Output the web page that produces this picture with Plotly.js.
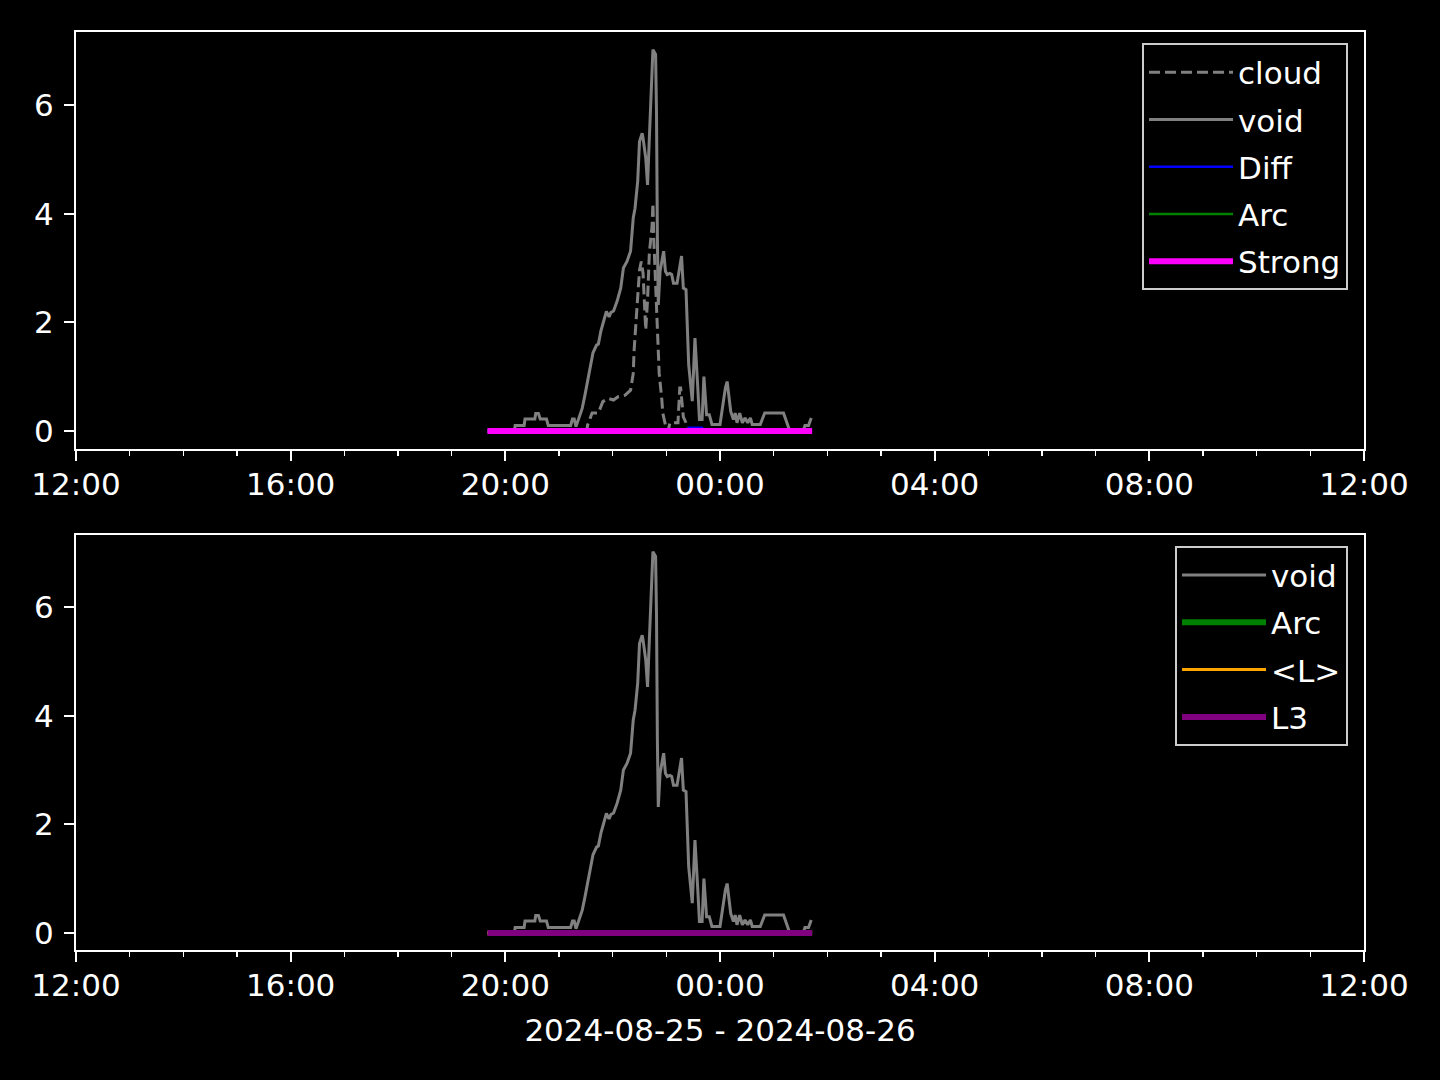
<!DOCTYPE html>
<html>
<head>
<meta charset="utf-8">
<script src="https://cdn.plot.ly/plotly-3.0.1.min.js"></script>
<style>
  html, body { margin: 0; padding: 0; background: #000; }
  #chart { width: 1440px; height: 1080px; }
</style>
</head>
<body>
<div id="chart"></div>
<script>
// ---------- data ----------
const dayA = '2024-08-25 ';
const dayB = '2024-08-26 ';

const voidTimes = [
  dayA+'19:40', dayA+'20:10', dayA+'20:11', dayA+'20:21', dayA+'20:22', dayA+'20:33', dayA+'20:34', dayA+'20:37',
  dayA+'20:39', dayA+'20:46', dayA+'20:48', dayA+'21:13', dayA+'21:15', dayA+'21:17', dayA+'21:19', dayA+'21:22',
  dayA+'21:26', dayA+'21:29', dayA+'21:32', dayA+'21:35', dayA+'21:38', dayA+'21:42', dayA+'21:44', dayA+'21:47',
  dayA+'21:50', dayA+'21:53', dayA+'21:56', dayA+'21:58', dayA+'22:01', dayA+'22:05', dayA+'22:09', dayA+'22:12',
  dayA+'22:16', dayA+'22:20', dayA+'22:23', dayA+'22:25', dayA+'22:28', dayA+'22:30', dayA+'22:33', dayA+'22:34',
  dayA+'22:37', dayA+'22:39', dayA+'22:41', dayA+'22:44', dayA+'22:45', dayA+'22:48', dayA+'22:49', dayA+'22:50',
  dayA+'22:51', dayA+'22:53', dayA+'22:57', dayA+'22:59', dayA+'23:01', dayA+'23:04', dayA+'23:06', dayA+'23:08',
  dayA+'23:12', dayA+'23:17', dayA+'23:19', dayA+'23:22', dayA+'23:25', dayA+'23:29', dayA+'23:32', dayA+'23:35',
  dayA+'23:37', dayA+'23:40', dayA+'23:42', dayA+'23:45', dayA+'23:48', dayA+'23:51',
  dayB+'00:00', dayB+'00:06', dayB+'00:08', dayB+'00:12', dayB+'00:15', dayB+'00:17', dayB+'00:19', dayB+'00:22',
  dayB+'00:25', dayB+'00:28', dayB+'00:31', dayB+'00:34', dayB+'00:36', dayB+'00:45', dayB+'00:50', dayB+'01:11',
  dayB+'01:16', dayB+'01:18', dayB+'01:33', dayB+'01:35', dayB+'01:39', dayB+'01:42'
];
const voidValues = [
  0, 0, 0.1, 0.1, 0.22, 0.22, 0.32, 0.32,
  0.22, 0.22, 0.1, 0.1, 0.22, 0.22, 0.08, 0.24,
  0.42, 0.66, 0.9, 1.17, 1.44, 1.58, 1.6, 1.85,
  2.05, 2.2, 2.1, 2.18, 2.21, 2.39, 2.63, 3.0,
  3.12, 3.31, 3.92, 4.1, 4.6, 5.33, 5.48, 5.39,
  5.02, 4.53, 5.39, 6.87, 7.02, 6.93, 5.88, 3.55,
  2.32, 2.94, 3.31, 2.94, 2.88, 2.9, 2.88, 2.72,
  2.72, 3.22, 2.63, 2.6, 1.22, 0.55, 1.71, 0.85,
  0.21, 0.21, 1.0, 0.3, 0.3, 0.12,
  0.12, 0.79, 0.91, 0.36, 0.21, 0.33, 0.15, 0.33,
  0.15, 0.24, 0.15, 0.24, 0.12, 0.12, 0.33, 0.33,
  0.09, 0, 0, 0.1, 0.1, 0.24
];

const cloudTimes = [
  dayA+'19:40', dayA+'21:31', dayA+'21:32', dayA+'21:37', dayA+'21:44', dayA+'21:49', dayA+'21:55', dayA+'22:01',
  dayA+'22:06', dayA+'22:14', dayA+'22:20', dayA+'22:23', dayA+'22:24', dayA+'22:26', dayA+'22:28', dayA+'22:30',
  dayA+'22:32', dayA+'22:34', dayA+'22:35', dayA+'22:37', dayA+'22:39', dayA+'22:41', dayA+'22:44', dayA+'22:45',
  dayA+'22:46', dayA+'22:49', dayA+'22:50', dayA+'22:52', dayA+'22:55', dayA+'22:56', dayA+'22:59', dayA+'23:00',
  dayA+'23:02', dayA+'23:04', dayA+'23:13', dayA+'23:15', dayA+'23:16', dayA+'23:19', dayA+'23:22', dayA+'23:25',
  dayB+'01:43'
];
const cloudValues = [
  0, 0, 0.11, 0.33, 0.33, 0.54, 0.6, 0.57,
  0.63, 0.66, 0.75, 1.06, 1.49, 1.98, 2.53, 2.96,
  3.12, 2.9, 2.53, 1.86, 2.41, 3.27, 3.76, 4.19,
  3.52, 2.29, 1.67, 1.06, 0.57, 0.33, 0.11, 0,
  0, 0.15, 0.15, 0.79, 0.79, 0.26, 0.15, 0,
  0
];

const diffTimes = [dayA+'19:40', dayA+'23:24', dayA+'23:25', dayA+'23:40', dayA+'23:41', dayB+'01:43'];
const diffValues = [0, 0, 0.06, 0.06, 0, 0];

const flatTimes = [dayA+'19:40', dayB+'01:43'];
const arcValues = [0, 0];
const strongValues = [0, 0];
const meanLValues = [0, 0];
const l3Values = [0, 0];

const xRange = [dayA+'12:00', dayB+'12:00'];
const xTitle = '2024-08-25 - 2024-08-26';

// ---------- chart ----------
const FONT = 'DejaVu Sans, sans-serif';
const FS = 31;

function tr(name, x, y, color, width, dash, xa, ya, legend) {
  return {
    type: 'scatter', mode: 'lines', name: name, x: x, y: y,
    xaxis: xa, yaxis: ya, legend: legend, legendgroup: name + legend,
    line: { color: color, width: width, dash: dash || 'solid' },
    hoverinfo: 'skip'
  };
}

const traces = [
  tr('cloud', cloudTimes, cloudValues, '#808080', 3, '11px,5px', 'x', 'y', 'legend'),
  tr('void', voidTimes, voidValues, '#808080', 3, null, 'x', 'y', 'legend'),
  tr('Diff', diffTimes, diffValues, '#0000ff', 2.5, null, 'x', 'y', 'legend'),
  tr('Arc', flatTimes, arcValues, '#008000', 2.5, null, 'x', 'y', 'legend'),
  tr('Strong', flatTimes, strongValues, '#ff00ff', 6, null, 'x', 'y', 'legend'),
  tr('void', voidTimes, voidValues, '#808080', 3, null, 'x2', 'y2', 'legend2'),
  tr('Arc', flatTimes, arcValues, '#008000', 6, null, 'x2', 'y2', 'legend2'),
  tr('<L>', flatTimes, meanLValues, '#ffa500', 3, null, 'x2', 'y2', 'legend2'),
  tr('L3', flatTimes, l3Values, '#800080', 6, null, 'x2', 'y2', 'legend2')
];

function xaxis(domainAnchor, withTitle) {
  const ax = {
    type: 'date', range: xRange, anchor: domainAnchor,
    tickformat: '%H:%M', dtick: 4 * 3600000, tick0: xRange[0],
    ticks: 'outside', ticklen: 10, tickwidth: 2, tickcolor: '#ffffff',
    ticklabelstandoff: -3,
    showline: true, linecolor: '#ffffff', linewidth: 2, mirror: true,
    showgrid: false, zeroline: false,
    tickfont: { family: FONT, size: FS, color: '#ffffff' },
    minor: { dtick: 3600000, tick0: xRange[0], ticks: 'outside', ticklen: 5, tickwidth: 1.5, tickcolor: '#ffffff', showgrid: false }
  };
  if (withTitle) {
    ax.title = { text: xTitle, font: { family: FONT, size: FS, color: '#ffffff' }, standoff: 17 };
  }
  return ax;
}
function yaxis(domain, anchor, range) {
  return {
    domain: domain, anchor: anchor, range: range,
    dtick: 2, tick0: 0,
    ticks: 'outside', ticklen: 10, tickwidth: 2, tickcolor: '#ffffff',
    ticklabelstandoff: 4,
    showline: true, linecolor: '#ffffff', linewidth: 2, mirror: true,
    showgrid: false, zeroline: false,
    tickfont: { family: FONT, size: FS, color: '#ffffff' }
  };
}

const legendBase = {
  bgcolor: '#000000', bordercolor: '#cccccc', borderwidth: 2,
  font: { family: FONT, size: FS, color: '#ffffff' },
  xanchor: 'right', yanchor: 'top', itemwidth: 84,
  traceorder: 'grouped', tracegroupgap: 4
};

const layout = {
  width: 1440, height: 1080,
  paper_bgcolor: '#000000', plot_bgcolor: '#000000',
  margin: { l: 76, r: 76, t: 32, b: 130 },
  showlegend: true,
  xaxis: xaxis('y', false),
  yaxis: yaxis([0.5458, 1], 'x', [-0.331, 7.344]),
  xaxis2: xaxis('y2', true),
  yaxis2: yaxis([0, 0.4521], 'x2', [-0.313, 7.326]),
  legend: Object.assign({}, legendBase, { x: 0.9876, y: 0.9875 }),
  legend2: Object.assign({}, legendBase, { x: 0.9876, y: 0.4397 })
};

Plotly.newPlot('chart', traces, layout, { staticPlot: true, displayModeBar: false });
</script>
</body>
</html>
